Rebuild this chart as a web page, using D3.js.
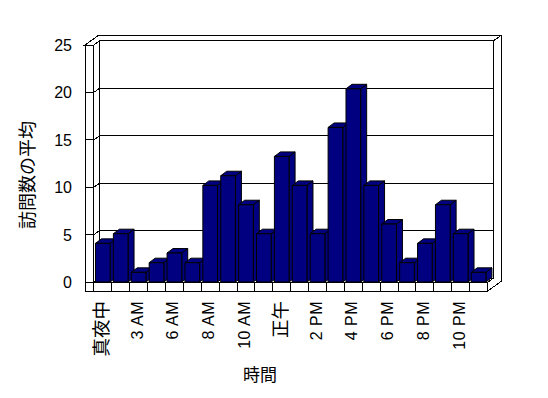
<!DOCTYPE html>
<html>
<head>
<meta charset="utf-8">
<script src="https://cdn.jsdelivr.net/npm/d3@7"></script>
<style>
  body { margin: 0; background: #fff; }
  text { font-family: "Liberation Sans", "Noto Sans CJK JP", sans-serif; fill: #000; }
</style>
</head>
<body>
<div id="chart"></div>
<script>
// hour categories (only every other one gets a label)
var hours = ["真夜中", "1 AM", "3 AM", "4 AM", "6 AM", "7 AM", "8 AM", "9 AM", "10 AM", "11 AM",
  "正午", "1 PM", "2 PM", "3 PM", "4 PM", "5 PM", "6 PM", "7 PM", "8 PM", "9 PM", "10 PM", "11 PM"];
var visits = [4, 5, 1, 2, 3, 2, 10, 11, 8, 5, 13, 10, 5, 16, 20, 10, 6, 2, 4, 8, 5, 1];
var shownHours = ["真夜中", "3 AM", "6 AM", "8 AM", "10 AM", "正午", "2 PM", "4 PM", "6 PM", "8 PM", "10 PM"];
var yTicks = [0, 5, 10, 15, 20, 25];

var width = 548, height = 398;

// frame of the 3d box
var plotLeft = 93.7, plotRight = 487.7, plotTop = 45, floorY = 282.3, floorH = 8.7, wallW = 8.7;
var inX = 6, inY = -4.3;     // depth from front plane to back wall
var thX = 8, thY = -5.7;     // back wall thickness
var barX = 6, barY = -4.5;   // depth of a bar

var svg = d3.select("#chart")
    .append("svg")
    .attr("width", width)
    .attr("height", height);

var x = d3.scaleBand()
    .domain(hours)
    .range([plotLeft, plotRight])
    .paddingInner(0.18)
    .paddingOuter(0.1);

// front plane scale and back wall scale
var y = d3.scaleLinear().domain([0, 25]).range([floorY, plotTop]);
var yBack = d3.scaleLinear().domain([0, 25]).range([floorY + inY, plotTop + inY]);
// bars are drawn a little taller than the front scale
var yBar = d3.scaleLinear().domain([0, 25]).range([282, 40.5]);

var frame = svg.append("g")
    .attr("fill", "#fff")
    .attr("stroke", "#000")
    .attr("stroke-width", 1)
    .attr("shape-rendering", "crispEdges");

function poly(g, pts) {
  return g.append("polygon").attr("points", pts.map(function(p) { return p.join(","); }).join(" "));
}

// back wall inner face
frame.append("rect")
    .attr("x", plotLeft + inX)
    .attr("y", plotTop + inY)
    .attr("width", plotRight - plotLeft)
    .attr("height", floorY - plotTop);

// top of left + back wall
poly(frame, [[plotLeft - wallW, plotTop], [plotLeft - wallW + inX + thX, plotTop + inY + thY],
  [plotRight + inX + thX, plotTop + inY + thY], [plotRight + inX, plotTop + inY],
  [plotLeft + inX, plotTop + inY], [plotLeft, plotTop]]);

// right edge of back wall and floor
poly(frame, [[plotRight + inX, plotTop + inY], [plotRight + inX + thX, plotTop + inY + thY],
  [plotRight + inX + thX, floorY + floorH + inY + thY], [plotRight, floorY + floorH],
  [plotRight, floorY], [plotRight + inX, floorY + inY]]);

// gridlines on back wall and left wall
yTicks.forEach(function(v) {
  frame.append("polyline")
      .attr("fill", "none")
      .attr("points", [[plotLeft - wallW, y(v)], [plotLeft, y(v)], [plotLeft + inX, yBack(v)], [plotRight + inX, yBack(v)]]
        .map(function(p) { return p.join(","); }).join(" "));
});

// bars
var bars = svg.append("g")
    .attr("fill", "#000080")
    .attr("stroke", "#000")
    .attr("stroke-width", 1)
    .attr("stroke-linejoin", "round");

hours.forEach(function(h, i) {
  var x0 = x(h), x1 = x(h) + x.bandwidth(), y0 = yBar(0), y1 = yBar(visits[i]);
  var g = bars.append("g");
  poly(g, [[x1, y0], [x1 + barX, y0 + barY], [x1 + barX, y1 + barY], [x1, y1]]);
  poly(g, [[x0, y1], [x0 + barX, y1 + barY], [x1 + barX, y1 + barY], [x1, y1]]);
  g.append("rect")
      .attr("x", x0)
      .attr("y", y1)
      .attr("width", x.bandwidth())
      .attr("height", y0 - y1);
});

// front faces of left wall and floor
var front = svg.append("g")
    .attr("fill", "#fff")
    .attr("stroke", "#000")
    .attr("stroke-width", 1)
    .attr("shape-rendering", "crispEdges");

front.append("rect")
    .attr("x", plotLeft - wallW)
    .attr("y", plotTop)
    .attr("width", wallW)
    .attr("height", floorY + floorH - plotTop);

front.append("rect")
    .attr("x", plotLeft)
    .attr("y", floorY)
    .attr("width", plotRight - plotLeft)
    .attr("height", floorH);

yTicks.forEach(function(v) {
  front.append("line")
      .attr("x1", plotLeft - wallW).attr("x2", plotLeft)
      .attr("y1", y(v)).attr("y2", y(v));
});

// dividers between categories on the floor front
var half = x.step() * x.paddingInner() / 2;
hours.slice(1).forEach(function(h) {
  front.append("line")
      .attr("x1", x(h) - half).attr("x2", x(h) - half)
      .attr("y1", floorY).attr("y2", floorY + floorH);
});

// y axis labels
var yAxis = d3.axisLeft(y).tickValues(yTicks).tickSize(0).tickPadding(0);
svg.append("g")
    .attr("class", "y axis")
    .attr("transform", "translate(72,0)")
    .call(yAxis)
    .call(function(g) { g.select(".domain").remove(); })
    .attr("font-family", null)
    .attr("font-size", 16)
    .selectAll("text")
    .attr("dy", null)
    .attr("dominant-baseline", "central");

// x axis labels, rotated
var xAxis = d3.axisBottom(x).tickValues(shownHours).tickSize(0).tickPadding(0);
svg.append("g")
    .attr("class", "x axis")
    .attr("transform", "translate(-1.5,301)")
    .call(xAxis)
    .call(function(g) { g.select(".domain").remove(); })
    .attr("font-family", null)
    .selectAll("text")
    .attr("font-size", function(d) { return /[^\x00-\x7f]/.test(d) ? 18.5 : 16; })
    .attr("letter-spacing", function(d) { return /[^\x00-\x7f]/.test(d) ? 0 : 0.5; })
    .attr("x", 0)
    .attr("y", 0)
    .attr("dy", null)
    .attr("text-anchor", "end")
    .attr("dominant-baseline", "central")
    .attr("transform", "rotate(-90)");

// axis titles
svg.append("text")
    .attr("transform", "translate(27.5,175) rotate(-90)")
    .attr("text-anchor", "middle")
    .attr("dominant-baseline", "central")
    .attr("font-size", 18)
    .text("訪問数の平均");

svg.append("text")
    .attr("x", 260)
    .attr("y", 375)
    .attr("text-anchor", "middle")
    .attr("dominant-baseline", "central")
    .attr("font-size", 17)
    .text("時間");
</script>
</body>
</html>
